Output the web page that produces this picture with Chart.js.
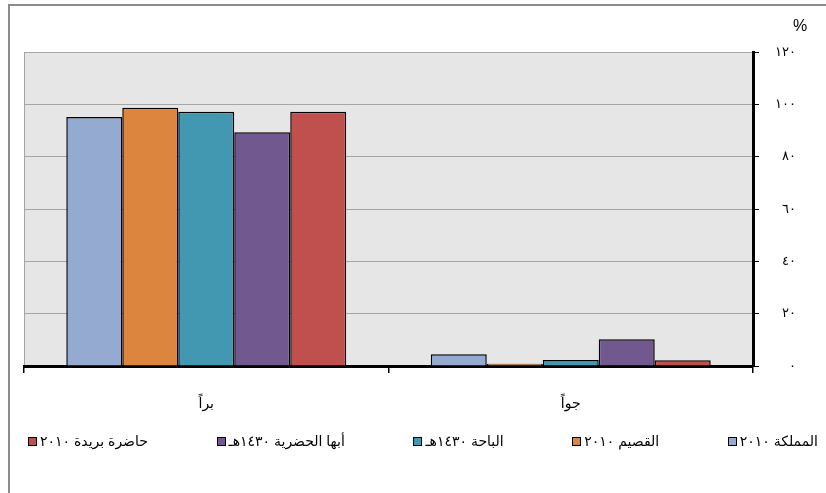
<!DOCTYPE html>
<html lang="ar">
<head>
<meta charset="utf-8">
<script src="https://cdn.jsdelivr.net/npm/chart.js@4.4.1/dist/chart.umd.min.js"></script>
<style>
    html, body { margin: 0; padding: 0; background: #fff; }
    #wrap { width: 826px; height: 493px; position: relative; }
    #legend {
        position: absolute; left: 28px; width: 790px; top: 432px; height: 18px;
        display: flex; justify-content: space-between; align-items: center;
        font: 14px Arial, 'DejaVu Sans', sans-serif; color: #000;
        direction: ltr; margin: 0; padding: 0; list-style: none;
    }
    #legend li { display: flex; align-items: center; white-space: nowrap; }
    #legend .box {
        display: inline-block; width: 9px; height: 9px; box-sizing: border-box;
        border: 1.5px solid #000; margin-right: 3px;
    }
</style>
</head>
<body>
<div id="wrap"><canvas id="mainChart"></canvas><ul id="legend"></ul></div>
<script>
// Data
const categories = ['براً', 'جواً'];
const seriesNames = ['المملكة ٢٠١٠', 'القصيم ٢٠١٠', 'الباحة ١٤٣٠هـ', 'أبها الحضرية ١٤٣٠هـ', 'حاضرة بريدة ٢٠١٠'];
const kingdom = [95.2, 4.5];
const qassim = [98.7, 0.9];
const baha = [97.2, 2.3];
const abha = [89.3, 10.2];
const buraidah = [97.2, 2.2];
const yTickLabels = ['٠', '٢٠', '٤٠', '٦٠', '٨٠', '١٠٠', '١٢٠'];

const seriesValues = [kingdom, qassim, baha, abha, buraidah];
const seriesColors = ['#95aad1', '#db853f', '#4298b0', '#71588f', '#c0504d'];
const FONT = "Arial, 'DejaVu Sans', sans-serif";

// frame, plot background and the % sign
const chartFrame = {
    id: 'chartFrame',
    beforeDraw(chart) {
        const { ctx, chartArea: a } = chart;
        ctx.save();
        ctx.strokeStyle = '#8c8c8c';
        ctx.lineWidth = 2;
        ctx.beginPath();
        ctx.moveTo(9, chart.height + 5);
        ctx.lineTo(9, 5);
        ctx.lineTo(chart.width + 5, 5);
        ctx.stroke();

        ctx.fillStyle = '#e6e6e6';
        ctx.fillRect(a.left, a.top, a.right - a.left, a.bottom - a.top);
        ctx.strokeStyle = '#a6a6a6';
        ctx.lineWidth = 1;
        ctx.beginPath();
        ctx.moveTo(a.left + 0.5, a.top);
        ctx.lineTo(a.left + 0.5, a.bottom);
        ctx.stroke();
        ctx.restore();
    },
    afterDraw(chart) {
        const { ctx } = chart;
        const y = chart.scales.y;
        ctx.save();
        ctx.fillStyle = '#000';
        ctx.font = '16px ' + FONT;
        ctx.textAlign = 'center';
        ctx.textBaseline = 'middle';
        ctx.fillText('%', y.left + 47, y.getPixelForValue(120) - 25);
        ctx.restore();
    }
};

// legend built from the chart's own legend items, spread across the width
const htmlLegend = {
    id: 'htmlLegend',
    afterUpdate(chart) {
        const ul = document.getElementById('legend');
        ul.innerHTML = '';
        const items = chart.options.plugins.legend.labels.generateLabels(chart).reverse();
        items.forEach(item => {
            const li = document.createElement('li');
            const box = document.createElement('span');
            box.className = 'box';
            box.style.background = item.fillStyle;
            const text = document.createElement('span');
            text.textContent = item.text;
            li.appendChild(box);
            li.appendChild(text);
            ul.appendChild(li);
        });
    }
};

document.addEventListener('DOMContentLoaded', () => {
    initChart();
});

function initChart() {
    const ctx = document.getElementById('mainChart');

    new Chart(ctx, {
        type: 'bar',
        data: {
            labels: categories,
            datasets: seriesNames.map((name, i) => ({
                label: name,
                data: seriesValues[i],
                backgroundColor: seriesColors[i],
                borderColor: '#000',
                borderWidth: 1.5,
                categoryPercentage: 0.768,
                barPercentage: 1
            }))
        },
        options: {
            responsive: true,
            maintainAspectRatio: false,
            animation: false,
            layout: {
                padding: { left: 24, right: 30, top: 52, bottom: 68 }
            },
            plugins: {
                tooltip: { enabled: false },
                legend: { display: false }
            },
            scales: {
                x: {
                    grid: {
                        drawOnChartArea: false,
                        drawTicks: true,
                        tickLength: 7,
                        color: '#000',
                        lineWidth: 1.5
                    },
                    border: { display: true, color: '#000', width: 3 },
                    ticks: {
                        color: '#000',
                        font: { family: FONT, size: 14 },
                        padding: 23
                    },
                    afterFit(scale) { scale.height = 59; }
                },
                y: {
                    position: 'right',
                    min: 0,
                    max: 120,
                    grid: {
                        color: '#a6a6a6',
                        lineWidth: 1,
                        tickColor: '#000',
                        tickLength: 6
                    },
                    border: { display: true, color: '#000', width: 3 },
                    ticks: {
                        stepSize: 20,
                        color: '#000',
                        font: { family: FONT, size: 13 },
                        crossAlign: 'far',
                        padding: 13,
                        callback: (value) => yTickLabels[value / 20]
                    },
                    afterFit(scale) { scale.width = 43; }
                }
            }
        },
        plugins: [chartFrame, htmlLegend]
    });
}
</script>
</body>
</html>
